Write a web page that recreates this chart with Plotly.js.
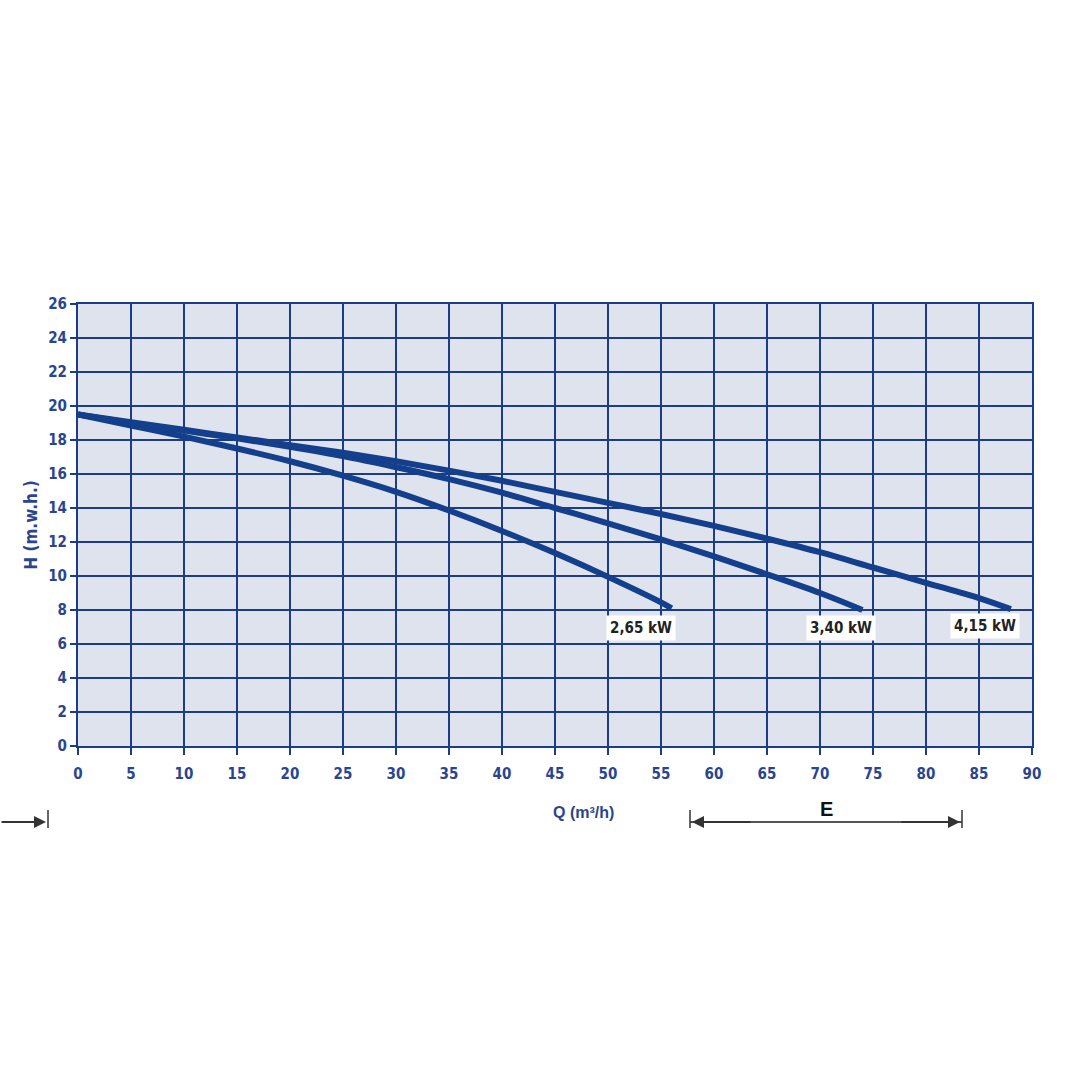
<!DOCTYPE html>
<html>
<head>
<meta charset="utf-8">
<script src="https://cdn.plot.ly/plotly-3.0.1.min.js"></script>
<style>html,body{margin:0;padding:0;background:#fff;}#chart{width:1080px;height:1080px;}</style>
</head>
<body>
<div id="chart"></div>
<script>
// Data
const q265 = [0, 5, 10, 15, 20, 25, 30, 35, 40, 45, 50, 55, 56];
const h265 = [19.5, 18.85, 18.2, 17.5, 16.75, 15.9, 14.95, 13.85, 12.65, 11.35, 9.95, 8.45, 8.1];

const q340 = [0, 5, 10, 15, 20, 25, 30, 35, 40, 45, 50, 55, 60, 65, 70, 74];
const h340 = [19.5, 19.0, 18.55, 18.1, 17.6, 17.05, 16.4, 15.7, 14.9, 14.0, 13.1, 12.15, 11.15, 10.1, 9.0, 8.0];

const q415 = [0, 5, 10, 15, 20, 25, 30, 35, 40, 45, 50, 55, 60, 65, 70, 75, 80, 85, 88];
const h415 = [19.5, 19.05, 18.6, 18.15, 17.7, 17.25, 16.75, 16.2, 15.6, 14.95, 14.3, 13.65, 12.95, 12.2, 11.4, 10.5, 9.6, 8.7, 8.05];

const seriesNames = ["2,65 kW", "3,40 kW", "4,15 kW"];
const xTicks = [0,5,10,15,20,25,30,35,40,45,50,55,60,65,70,75,80,85,90];
const yTicks = [0,2,4,6,8,10,12,14,16,18,20,22,24,26];

const blue = "#143f8c";
const gridBlue = "#1d3c88";
const tickFont = {family: "Liberation Sans Narrow, DejaVu Sans Condensed, Arial Narrow, sans-serif", size: 15, color: "#2a4590", weight: "bold"};

const lineStyle = {color: blue, width: 6, shape: "spline", smoothing: 1};
const traces = [
  {x: q265, y: h265, name: seriesNames[0], mode: "lines", line: lineStyle, hoverinfo: "skip"},
  {x: q340, y: h340, name: seriesNames[1], mode: "lines", line: lineStyle, hoverinfo: "skip"},
  {x: q415, y: h415, name: seriesNames[2], mode: "lines", line: lineStyle, hoverinfo: "skip"}
];

const labelFont = {family: "Liberation Sans Narrow, DejaVu Sans Condensed, sans-serif", size: 15, color: "#222", weight: "bold"};
function lab(text, x, y) {
  return {text: text, x: x, y: y, xref: "x", yref: "y", showarrow: false,
          xanchor: "center", yanchor: "middle",
          bgcolor: "#ffffff", font: labelFont, borderpad: 3};
}
function px2x(p) { return (p - 78) / 954; }
function px2y(p) { return -(p - 746) / 442; }

const layout = {
  width: 1080, height: 1080,
  margin: {l: 78, r: 48, t: 304, b: 334},
  paper_bgcolor: "#ffffff",
  plot_bgcolor: "#dfe3ee",
  showlegend: false,
  xaxis: {
    range: [0, 90], tickvals: xTicks, ticktext: xTicks.map(String),
    showgrid: true, gridcolor: gridBlue, gridwidth: 2,
    showline: true, linecolor: gridBlue, linewidth: 2, mirror: true,
    ticks: "outside", ticklen: 7, tickcolor: gridBlue, tickwidth: 2,
    ticklabelstandoff: 6,
    tickfont: tickFont, zeroline: false, fixedrange: true
  },
  yaxis: {
    range: [0, 26], tickvals: yTicks, ticktext: yTicks.map(String),
    showgrid: true, gridcolor: gridBlue, gridwidth: 2,
    showline: true, linecolor: gridBlue, linewidth: 2, mirror: true,
    ticks: "outside", ticklen: 6, tickcolor: gridBlue, tickwidth: 2,
    tickfont: tickFont, zeroline: false, fixedrange: true,
    title: {text: "H (m.w.h.)", font: {family: "Liberation Sans Narrow, DejaVu Sans Condensed, sans-serif", size: 17, color: "#2a4590", weight: "bold"}, standoff: 6}
  },
  annotations: [
    lab(seriesNames[0], 53.1, 6.95),
    lab(seriesNames[1], 72.0, 6.95),
    lab(seriesNames[2], 85.6, 7.05),
    {text: "Q (m³/h)", xref: "paper", yref: "paper", x: px2x(583), y: px2y(812),
     xanchor: "center", yanchor: "middle",
     showarrow: false, font: {family: "Liberation Sans, Arial, sans-serif", size: 16, color: "#2a4590", weight: "bold"}},
    {text: "E", xref: "paper", yref: "paper", x: px2x(826), y: px2y(809),
     xanchor: "center", yanchor: "middle",
     showarrow: false, font: {family: "Liberation Sans, Arial, sans-serif", size: 20, color: "#111", weight: "bold"}},
    // dimension arrows
    {xref: "paper", yref: "paper", x: px2x(692), y: px2y(822), ax: 60, ay: 0,
     showarrow: true, arrowhead: 2, arrowsize: 1.2, arrowwidth: 2, arrowcolor: "#333", text: ""},
    {xref: "paper", yref: "paper", x: px2x(960), y: px2y(822), ax: -60, ay: 0,
     showarrow: true, arrowhead: 2, arrowsize: 1.2, arrowwidth: 2, arrowcolor: "#333", text: ""},
    {xref: "paper", yref: "paper", x: px2x(46), y: px2y(822), ax: -46, ay: 0,
     showarrow: true, arrowhead: 2, arrowsize: 1.2, arrowwidth: 2, arrowcolor: "#333", text: ""}
  ],
  shapes: [
    {type: "line", xref: "paper", yref: "paper", x0: px2x(690), x1: px2x(962),
     y0: px2y(822), y1: px2y(822), line: {color: "#555", width: 2}},
    {type: "line", xref: "paper", yref: "paper", x0: px2x(690), x1: px2x(690),
     y0: px2y(810), y1: px2y(828), line: {color: "#333", width: 1.5}},
    {type: "line", xref: "paper", yref: "paper", x0: px2x(962), x1: px2x(962),
     y0: px2y(810), y1: px2y(828), line: {color: "#333", width: 1.5}},
    {type: "line", xref: "paper", yref: "paper", x0: px2x(48), x1: px2x(48),
     y0: px2y(810), y1: px2y(828), line: {color: "#333", width: 1.5}}
  ]
};

Plotly.newPlot("chart", traces, layout, {displayModeBar: false, staticPlot: true});
</script>
</body>
</html>
